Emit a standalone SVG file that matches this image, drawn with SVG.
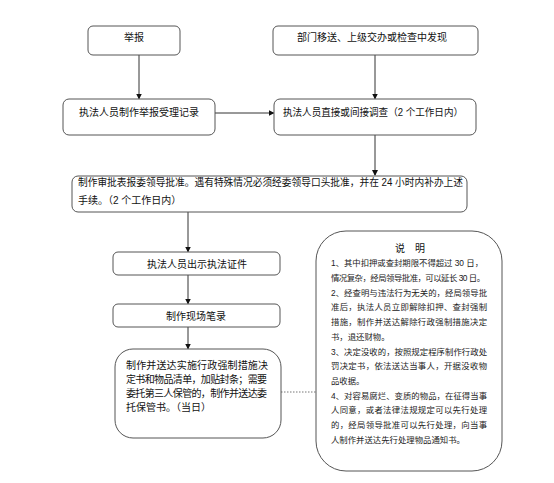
<svg xmlns="http://www.w3.org/2000/svg" width="554" height="483" viewBox="0 0 554 483">
<style>
.box{fill:#fff;stroke:#555;stroke-width:1}
.t{font-family:"Liberation Sans","Noto Sans CJK SC",sans-serif;font-size:10px;fill:#111}
.n{font-family:"Liberation Sans","Noto Sans CJK SC",sans-serif;font-size:8.4px;fill:#222}
.c{fill:none;stroke:#333;stroke-width:1}
.d{fill:none;stroke:#777;stroke-width:1;stroke-dasharray:1.5 1.5}
</style>
<defs>
<marker id="ah" markerWidth="6" markerHeight="6" refX="5" refY="3" orient="auto" markerUnits="userSpaceOnUse">
<path d="M0,0 L6,3 L0,6 Z" fill="#111"/>
</marker>
</defs>
<rect width="554" height="483" fill="#fff"/>
<g id="connectors">
<line class="c" x1="139" y1="55" x2="139" y2="98.5" marker-end="url(#ah)"/>
<line class="c" x1="375" y1="55" x2="375" y2="98.5" marker-end="url(#ah)"/>
<line class="c" x1="215" y1="113" x2="273.5" y2="113" marker-end="url(#ah)"/>
<line class="c" x1="375" y1="135" x2="375" y2="175" marker-end="url(#ah)"/>
<line class="c" x1="188" y1="212" x2="188" y2="251.5" marker-end="url(#ah)"/>
<line class="c" x1="188" y1="275" x2="188" y2="303.5" marker-end="url(#ah)"/>
<line class="c" x1="188" y1="327" x2="188" y2="348.5" marker-end="url(#ah)"/>
<line class="d" x1="281" y1="392" x2="316" y2="392"/>
</g>
<g id="n1">
<rect class="box" x="88" y="26" width="92" height="29" rx="5"/>
<text class="t" x="134" y="41" text-anchor="middle">举报</text>
</g>
<g id="n2">
<rect class="box" x="273" y="26" width="205" height="29" rx="5"/>
<text class="t" x="372" y="41" text-anchor="middle">部门移送、上级交办或检查中发现</text>
</g>
<g id="n3">
<rect class="box" x="63" y="99" width="152" height="36" rx="6"/>
<text class="t" x="139" y="116" text-anchor="middle">执法人员制作举报受理记录</text>
</g>
<g id="n4">
<rect class="box" x="274" y="99" width="202" height="36" rx="6"/>
<text class="t" x="283" y="116" textLength="180" lengthAdjust="spacingAndGlyphs">执法人员直接或间接调查（2 个工作日内）</text>
</g>
<g id="n5">
<rect class="box" x="72" y="176" width="395" height="36" rx="6"/>
<text class="t" x="78" y="186" textLength="385" lengthAdjust="spacingAndGlyphs">制作审批表报委领导批准。遇有特殊情况必须经委领导口头批准，并在 24 小时内补办上述</text>
<text class="t" x="78" y="204">手续。（2 个工作日内）</text>
</g>
<g id="n6">
<rect class="box" x="113" y="252" width="167" height="23" rx="5"/>
<text class="t" x="197" y="268" text-anchor="middle">执法人员出示执法证件</text>
</g>
<g id="n7">
<rect class="box" x="113" y="304" width="167" height="23" rx="5"/>
<text class="t" x="196" y="320" text-anchor="middle">制作现场笔录</text>
</g>
<g id="n8">
<rect class="box" x="115" y="349" width="166" height="89" rx="18"/>
<text class="t" x="126" y="369" textLength="142" lengthAdjust="spacing">制作并送达实施行政强制措施决</text>
<text class="t" x="126" y="383" textLength="141" lengthAdjust="spacing">定书和物品清单，加贴封条；需要</text>
<text class="t" x="126" y="397" textLength="141" lengthAdjust="spacing">委托第三人保管的，制作并送达委</text>
<text class="t" x="126" y="411">托保管书。（当日）</text>
</g>
<g id="n9">
<rect class="box" x="316" y="231" width="186" height="240" rx="30"/>
<text class="t" x="410" y="252" text-anchor="middle" font-size="10.5">说　明</text>
<text class="n" x="331" y="266" textLength="152" lengthAdjust="spacing">1、其中扣押或查封期限不得超过 30 日，</text>
<text class="n" x="331" y="281" textLength="154" lengthAdjust="spacing">情况复杂，经局领导批准，可以延长 30 日。</text>
<text class="n" x="331" y="296" textLength="156" lengthAdjust="spacing">2、经查明与违法行为无关的，经局领导批</text>
<text class="n" x="331" y="310" textLength="156" lengthAdjust="spacing">准后，执法人员立即解除扣押、查封强制</text>
<text class="n" x="331" y="325" textLength="156" lengthAdjust="spacing">措施，制作并送达解除行政强制措施决定</text>
<text class="n" x="331" y="340">书，退还财物。</text>
<text class="n" x="331" y="355" textLength="156" lengthAdjust="spacing">3、决定没收的，按照规定程序制作行政处</text>
<text class="n" x="331" y="369" textLength="156" lengthAdjust="spacing">罚决定书，依法送达当事人，开据没收物</text>
<text class="n" x="331" y="384">品收据。</text>
<text class="n" x="331" y="399" textLength="156" lengthAdjust="spacing">4、对容易腐烂、变质的物品，在征得当事</text>
<text class="n" x="331" y="413" textLength="156" lengthAdjust="spacing">人同意，或者法律法规规定可以先行处理</text>
<text class="n" x="331" y="428" textLength="156" lengthAdjust="spacing">的，经局领导批准可以先行处理，向当事</text>
<text class="n" x="331" y="443">人制作并送达先行处理物品通知书。</text>
</g>
</svg>
